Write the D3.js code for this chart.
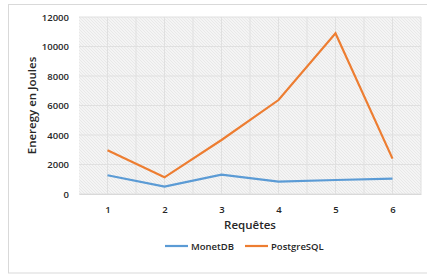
<!DOCTYPE html>
<html>
<head>
<meta charset="utf-8">
<script src="https://cdn.jsdelivr.net/npm/d3@7"></script>
<style>
  body { margin: 0; background: #fff; }
  text { font-family: "Open Sans", sans-serif; font-weight: 600; fill: #262626; }
</style>
</head>
<body>
<div id="chart"></div>
<script>
// data
const requetes = [1, 2, 3, 4, 5, 6];
const monetdb = [1270, 500, 1310, 840, 950, 1040];
const postgresql = [2960, 1130, 3660, 6370, 10890, 2400];
const yTicks = [0, 2000, 4000, 6000, 8000, 10000, 12000];

const width = 427, height = 274;
const margin = {top: 17, right: 6, bottom: 80, left: 79};

const svg = d3.select('#chart').append('svg')
  .attr('width', width)
  .attr('height', height);

// outer chart border
svg.append('rect')
  .attr('x', 8.5).attr('y', 4.5)
  .attr('width', 430).attr('height', 268.5)
  .attr('fill', 'none').attr('stroke', '#d9d9d9');

// hatched background
const pat = svg.append('defs').append('pattern')
  .attr('id', 'hatch').attr('patternUnits', 'userSpaceOnUse')
  .attr('width', 3).attr('height', 3);
pat.append('rect').attr('width', 3).attr('height', 3).attr('fill', '#f4f4f4');
pat.append('path').attr('d', 'M0,0 L3,3').attr('stroke', '#e4e4e4').attr('stroke-width', 0.8);

const plotW = width - margin.left - margin.right;
const plotH = height - margin.top - margin.bottom;

const g = svg.append('g').attr('transform', 'translate(' + margin.left + ',' + margin.top + ')');

g.append('rect').attr('width', plotW).attr('height', plotH).attr('fill', 'url(#hatch)');

// categories sit in the middle of bands
const x = d3.scaleLinear().domain([0.5, 6.5]).range([0, plotW]);
const y = d3.scaleLinear().domain([0, 12000]).range([plotH, 0]);

// vertical grid every half category
const xGrid = d3.range(1, 13).map(d => 0.5 + d * 0.5);
g.selectAll('.vgrid').data(xGrid).enter().append('line')
  .attr('x1', d => x(d)).attr('x2', d => x(d))
  .attr('y1', 0).attr('y2', plotH)
  .attr('stroke', '#e0e0e0').attr('stroke-width', 1);

g.selectAll('.hgrid').data(yTicks).enter().append('line')
  .attr('x1', 0).attr('x2', plotW)
  .attr('y1', d => y(d)).attr('y2', d => y(d))
  .attr('stroke', '#e0e0e0').attr('stroke-width', 1);

// axis labels
const yAxis = d3.axisLeft(y).tickValues(yTicks).tickFormat(d3.format('d')).tickSize(0).tickPadding(10);
const ya = g.append('g').call(yAxis);
ya.select('.domain').remove();
ya.selectAll('text').style('font-size', '9.5px').attr('fill', '#262626');

const xAxis = d3.axisBottom(x).tickValues(requetes).tickFormat(d3.format('d')).tickSize(0).tickPadding(12);
const xa = g.append('g').attr('transform', 'translate(0,' + plotH + ')').call(xAxis);
xa.select('.domain').attr('stroke', '#d9d9d9');
xa.selectAll('text').style('font-size', '9.5px').attr('fill', '#262626');

// lines
const line = d3.line().x((d, i) => x(requetes[i])).y(d => y(d));
g.append('path').datum(monetdb).attr('d', line)
  .attr('fill', 'none').attr('stroke', '#5b9bd5').attr('stroke-width', 2.2);
g.append('path').datum(postgresql).attr('d', line)
  .attr('fill', 'none').attr('stroke', '#ed7d31').attr('stroke-width', 2.2);

// titles
svg.append('text')
  .attr('x', margin.left + plotW / 2).attr('y', 229)
  .attr('text-anchor', 'middle').style('font-size', '11.5px')
  .text('Requêtes');

svg.append('text')
  .attr('transform', 'translate(36,' + (margin.top + plotH / 2) + ') rotate(-90)')
  .attr('text-anchor', 'middle').style('font-size', '11.5px')
  .text('Eneregy en Joules');

// legend
const legend = [{name: 'MonetDB', color: '#5b9bd5', x: 165}, {name: 'PostgreSQL', color: '#ed7d31', x: 245}];
const lg = svg.selectAll('.legend').data(legend).enter().append('g')
  .attr('transform', d => 'translate(' + d.x + ',246)');
lg.append('line').attr('x1', 0).attr('x2', 23).attr('y1', 0).attr('y2', 0)
  .attr('stroke', d => d.color).attr('stroke-width', 2.2);
lg.append('text').attr('x', 26).attr('y', 3.5).style('font-size', '9.5px')
  .text(d => d.name);
</script>
</body>
</html>
